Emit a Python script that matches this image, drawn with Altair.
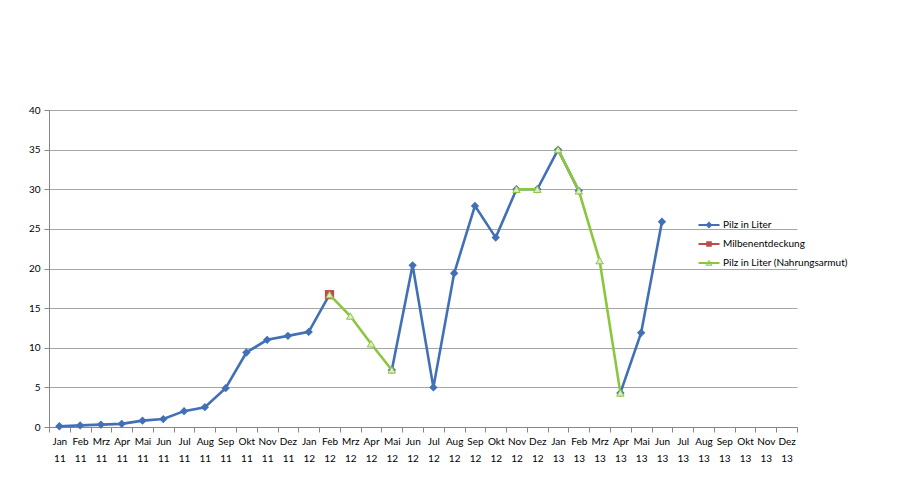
import altair as alt
import pandas as pd

months = ["Jan", "Feb", "Mrz", "Apr", "Mai", "Jun", "Jul", "Aug", "Sep", "Okt", "Nov", "Dez"]
years = ["11", "12", "13"]
categories = [f"{m} {y}" for y in years for m in months]

series_names = ["Pilz in Liter", "Milbenentdeckung", "Pilz in Liter (Nahrungsarmut)"]

pilz = [0.1, 0.2, 0.3, 0.4, 0.8, 1.0, 2.0, 2.5, 4.9, 9.4, 11.0, 11.5,
        12.0, 16.7, None, None, 7.2, 20.4, 5.0, 19.4, 27.9, 23.9, 30.0, 30.0,
        35.0, 29.8, None, 4.3, 11.9, 25.9, None, None, None, None, None, None]
milben = [None] * 13 + [16.7] + [None] * 22
nahrung = [None] * 13 + [16.7, 14.0, 10.5, 7.2, None, None, None, None, None, 30.0, 30.0,
                         35.0, 29.8, 21.0, 4.3, None, None, None, None, None, None, None, None]
nahrung_break_before = {"Jan 13"}

BLUE = "#4170B7"
RED = "#BE4B48"
GREEN = "#8CC63F"
FONT = "Lato"
FS = 10
TXT = "#000000"


def to_frame(values, name, breaks=()):
    rows, seg = [], 0
    for c, v in zip(categories, values):
        if v is None:
            seg += 1
            continue
        if c in breaks:
            seg += 1
        rows.append({"cat": c, "value": v, "series": name, "seg": seg})
    return pd.DataFrame(rows)


df_pilz = to_frame(pilz, series_names[0])
df_milben = to_frame(milben, series_names[1])
df_nahrung = to_frame(nahrung, series_names[2], nahrung_break_before)
df_all = pd.concat([df_pilz, df_milben, df_nahrung], ignore_index=True)

x_enc = alt.X(
    "cat:N",
    scale=alt.Scale(type="band", domain=categories, paddingInner=0, paddingOuter=0),
    bandPosition=0.5,
    axis=alt.Axis(
        title=None, labelAngle=0, labelExpr="split(datum.label, ' ')",
        tickBand="extent", grid=False, domainColor="#868686", tickColor="#868686",
        tickSize=5, labelPadding=4, labelFont=FONT, labelFontSize=FS,
        labelColor=TXT, labelLineHeight=17, labelBaseline="top",
    ),
)
y_enc = alt.Y(
    "value:Q",
    scale=alt.Scale(domain=[0, 40], nice=False),
    axis=alt.Axis(
        title=None, values=list(range(0, 41, 5)), grid=True, gridColor="#A6A6A6",
        domainColor="#868686", tickColor="#868686", tickSize=5, labelPadding=4,
        labelFont=FONT, labelFontSize=FS, labelColor=TXT,
    ),
)

blue_line = alt.Chart(df_pilz).mark_line(color=BLUE, strokeWidth=2.6).encode(
    x=x_enc, y=y_enc, detail="seg:N")
blue_pts = alt.Chart(df_pilz).mark_point(shape="diamond", filled=True, color=BLUE,
                                         size=70, opacity=1).encode(x=x_enc, y=y_enc)
red_pts = alt.Chart(df_milben).mark_point(shape="square", filled=True, color=RED,
                                          size=85, opacity=1).encode(x=x_enc, y=y_enc)
green_line = alt.Chart(df_nahrung).mark_line(color=GREEN, strokeWidth=2.6).encode(
    x=x_enc, y=y_enc, detail="seg:N")
green_pts = alt.Chart(df_nahrung).mark_point(shape="triangle-up", filled=True,
                                             fill="#DCEBC4", stroke=GREEN, strokeWidth=1,
                                             size=55, opacity=1).encode(x=x_enc, y=y_enc)

legend_paths = [
    "M-3,-0.3H3V0.3H-3Z M0,-1L1,0L0,1L-1,0Z",
    "M-3,-0.3H3V0.3H-3Z M-0.8,-0.8H0.8V0.8H-0.8Z",
    "M-3,-0.3H3V0.3H-3Z M0,-0.95L1,0.75L-1,0.75Z M0,-0.45L-0.55,0.45L0.55,0.45Z",
]
leg = alt.Legend(title=None, orient="none", legendX=655, legendY=110,
                 labelFont=FONT, labelFontSize=FS, labelColor=TXT,
                 labelOffset=9, rowPadding=9, symbolSize=49, symbolStrokeWidth=0,
                 symbolOpacity=1, padding=0)
legend_layer = alt.Chart(df_all).transform_filter("false").mark_point(filled=True).encode(
    x=x_enc, y=y_enc,
    color=alt.Color("series:N", scale=alt.Scale(domain=series_names, range=[BLUE, RED, GREEN]), legend=leg),
    shape=alt.Shape("series:N", scale=alt.Scale(domain=series_names, range=legend_paths), legend=leg),
)

chart = alt.layer(blue_line, blue_pts, red_pts, green_line, green_pts, legend_layer).properties(
    width=748, height=317,
    autosize=alt.AutoSizeParams(type="none"),
    padding={"left": 41, "top": 102, "right": 80, "bottom": 55},
    background="white",
).configure_view(strokeWidth=0)

chart.save("out.html", embed_options={"renderer": "svg", "actions": False})
